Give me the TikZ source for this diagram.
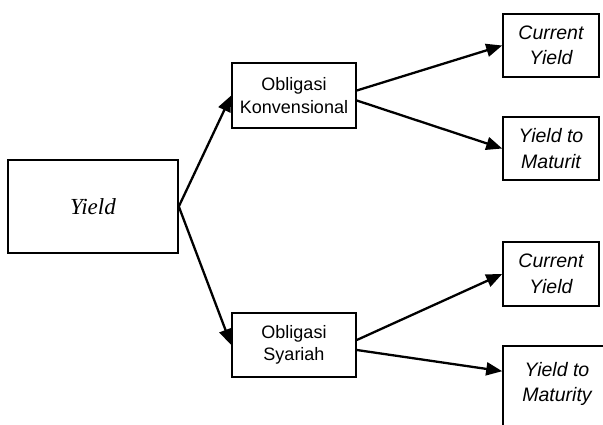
\documentclass[tikz,border=0pt]{standalone}
\usepackage{fontspec}
\setmainfont{Liberation Sans}
\newfontfamily\serifit{Liberation Serif}
\usetikzlibrary{arrows.meta}
\begin{document}
\begin{tikzpicture}[x=1pt,y=-1pt,
  box/.style={draw, line width=1.6pt, inner sep=0pt, align=center,
    font=\fontsize{18}{22.5}\selectfont},
  itbox/.style={box, font=\fontsize{19.5}{25.5}\selectfont\itshape},
  arr/.style={-{Triangle[length=16pt,width=13pt]}, line width=2.3pt}]
\useasboundingbox (0,0) rectangle (603,424);
\clip (0,0) rectangle (603,424);
\node[box, minimum width=170pt, minimum height=93pt,
  font=\fontsize{23}{27}\selectfont\serifit\itshape] (yield) at (93,206.5) {Yield};
\node[box, minimum width=124pt, minimum height=65pt] (konv) at (294,95.5) {Obligasi\\Konvensional};
\node[box, minimum width=124pt, minimum height=64pt] (syar) at (294,345) {Obligasi\\Syariah};
\node[itbox, minimum width=96pt, minimum height=63pt] (cy1) at (551,45.5) {Current\\Yield};
\node[itbox, minimum width=96pt, minimum height=63pt] (ytm1) at (551,148.5) {Yield to\\Maturit};
\node[itbox, minimum width=96pt, minimum height=64pt] (cy2) at (551,274) {Current\\Yield};
\node[box, minimum width=112pt, minimum height=100pt] (ytm2box) at (559,396) {};
\node[itbox, draw=none] (ytm2) at (557,384) {Yield to\\Maturity};
\draw[arr] (yield.east) -- (konv.west);
\draw[arr] (yield.east) -- (syar.west);
\draw[arr] ([yshift=5pt]konv.east) -- (cy1.west);
\draw[arr] ([yshift=-5pt]konv.east) -- (ytm1.west);
\draw[arr] ([yshift=5pt]syar.east) -- (cy2.west);
\draw[arr] ([yshift=-5pt]syar.east) -- ([yshift=-26pt]ytm2box.north west);
\end{tikzpicture}
\end{document}
